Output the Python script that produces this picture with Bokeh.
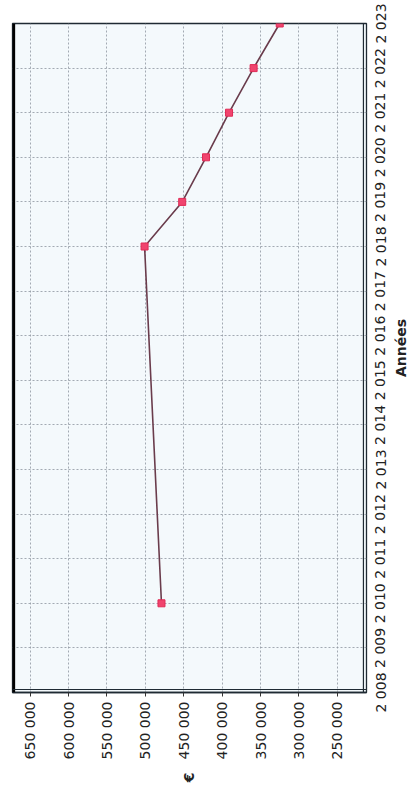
import math
from bokeh.plotting import figure
from bokeh.layouts import row
from bokeh.models import Range1d, FixedTicker, Span, ColumnDataSource
from bokeh.core.properties import value
from bokeh.embed import file_html
from bokeh.resources import INLINE

years = [2010, 2018, 2019, 2020, 2021, 2022, 2023]
montants = [479000, 501000, 452000, 421000, 391000, 359000, 325000]
year_ticks = list(range(2008, 2024))
year_labels = {y: f"{str(y)[0]} {str(y)[1:]}" for y in year_ticks}
value_ticks = [250000, 300000, 350000, 400000, 450000, 500000, 550000, 600000, 650000]
value_labels = {v: f"{v // 1000} 000" for v in value_ticks}

H = 785
TOP, BOTTOM = 23, 93
Y0, Y1 = 2008, 2023
px_per_year = (H - TOP - BOTTOM) / (Y1 - Y0)

src = ColumnDataSource(dict(x=montants, y=years))
yr = Range1d(Y0, Y1)

p = figure(width=368, height=H, output_backend="svg", toolbar_location=None,
           x_range=Range1d(673000, 212000), y_range=yr,
           x_axis_location="below", y_axis_location=None,
           min_border_left=12, min_border_top=TOP, min_border_right=2, min_border_bottom=BOTTOM)
p.background_fill_color = "#f4f9fc"
p.border_fill_color = "white"
p.outline_line_color = "#1f2a33"
p.outline_line_width = 1.3

for g in (p.xgrid, p.ygrid):
    g.grid_line_color = "#8f96a0"
    g.grid_line_dash = "2 2"
    g.grid_line_width = 1
    g.grid_line_alpha = 0.8
p.ygrid.ticker = FixedTicker(ticks=year_ticks)

xa = p.xaxis[0]
xa.ticker = FixedTicker(ticks=value_ticks)
xa.major_label_overrides = value_labels
xa.major_label_orientation = math.pi / 2
xa.major_label_text_font = "DejaVu Sans"
xa.major_label_text_font_size = "14px"
xa.major_label_text_color = "#222222"
xa.major_label_standoff = 5
xa.minor_tick_line_color = None
xa.major_tick_out = 4
xa.major_tick_in = 0
xa.major_tick_line_color = "#333333"
xa.axis_line_color = "#1f2a33"
xa.axis_line_width = 1.5
xa.axis_label = "€"
xa.axis_label_text_font = "DejaVu Sans"
xa.axis_label_text_font_size = "14px"
xa.axis_label_text_font_style = "bold"
xa.axis_label_text_color = "#222222"
xa.axis_label_standoff = 10
xa.axis_label_orientation = math.pi / 2

# frame lines (thick left edge, double bottom and right edges)
p.add_layout(Span(location=673000 - 1500, dimension="height", line_color="black", line_width=3))
p.add_layout(Span(location=Y0 + 3 / px_per_year, dimension="width", line_color="#1f2a33", line_width=1.2))
p.add_layout(Span(location=216000, dimension="height", line_color="#1f2a33", line_width=1.2))

p.line("x", "y", source=src, line_color="#6a3c4c", line_width=1.6)
p.scatter("x", "y", source=src, marker="square", size=7, fill_color="#f0446e",
          line_color="#e02a55", line_width=1)

# right strip: year tick labels (left axis of the strip) and the axis title
W2 = 40
B2 = 22
p2 = figure(width=W2, height=H, output_backend="svg", toolbar_location=None,
            x_range=Range1d(0, W2 - B2), y_range=yr,
            x_axis_location=None, y_axis_location="left",
            min_border_left=B2, min_border_right=0, min_border_top=TOP, min_border_bottom=BOTTOM)
p2.outline_line_color = None
p2.background_fill_color = "white"
p2.border_fill_color = "white"
p2.grid.visible = False

ya = p2.yaxis[0]
ya.ticker = FixedTicker(ticks=year_ticks)
ya.major_label_overrides = year_labels
ya.major_label_orientation = "parallel"
ya.major_label_text_font = "DejaVu Sans"
ya.major_label_text_font_size = "14px"
ya.major_label_text_color = "#222222"
ya.major_label_standoff = 2
ya.major_tick_out = 0
ya.major_tick_in = 0
ya.minor_tick_line_color = None
ya.axis_line_color = None

p2.text(x=[10], y=[(Y0 + Y1) / 2], text=["Années"], angle=math.pi / 2, y_offset=-10,
        text_align="center", text_baseline="middle", text_font=value("DejaVu Sans"),
        text_font_size="14px", text_font_style="bold", text_color="#222222")

layout = row(p, p2, spacing=0)
open("out.html", "w").write(file_html(layout, INLINE))
